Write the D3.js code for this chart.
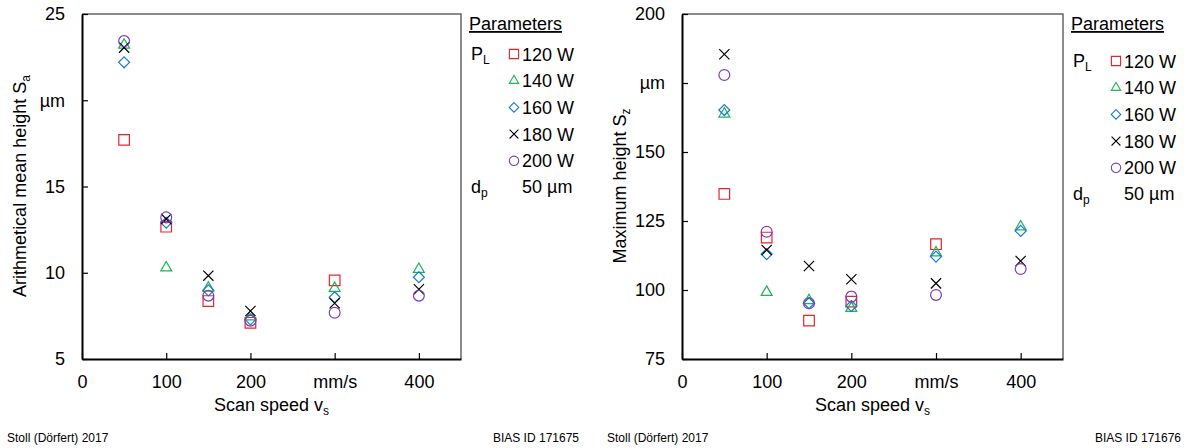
<!DOCTYPE html>
<html>
<head>
<meta charset="utf-8">
<script src="https://cdn.jsdelivr.net/npm/d3@7"></script>
<style>
  body { margin: 0; background: #fff; }
  svg { display: block; font-family: "Liberation Sans", Arial, sans-serif; }
</style>
</head>
<body>
<svg id="chart" width="1187" height="448"></svg>
<script>
// scan speeds (mm/s) and laser powers
const speeds = [50, 100, 150, 200, 300, 400]
const powers = ['120 W', '140 W', '160 W', '180 W', '200 W']

// arithmetical mean height Sa (µm), one array per power
const sa120 = [17.7, 12.67, 8.36, 7.1, 9.56, null]
const sa140 = [23.2, 10.29, 9.12, 7.45, 9.1, 10.2]
const sa160 = [22.2, 12.9, 8.98, 7.3, 8.58, 9.74]
const sa180 = [23.05, 13.12, 9.83, 7.78, 8.23, 9.04]
const sa200 = [23.43, 13.21, 8.67, 7.22, 7.68, 8.67]

// maximum height Sz (µm)
const sz120 = [134.8, 119.0, 88.9, 95.8, 116.6, null]
const sz140 = [163.8, 99.2, 96.2, 93.4, 113.5, 122.9]
const sz160 = [165.2, 113.0, 95.2, 94.2, 112.1, 121.4]
const sz180 = [185.4, 114.5, 108.7, 103.9, 102.4, 110.5]
const sz200 = [177.9, 121.1, 95.2, 97.6, 98.2, 107.6]

const xTicks = [0, 100, 200, 300, 400]
const saTicks = [5, 10, 15, 20, 25]
const szTicks = [75, 100, 125, 150, 175, 200]

const colors = ['#e8242b', '#1db356', '#1c78d3', '#000000', '#7a3db8']
const types = [d3.symbolSquare2, d3.symbolTriangle2, d3.symbolDiamond2, d3.symbolTimes, d3.symbolCircle]
const sizes = [143, 85, 77, 70, 92]
const symbols = types.map((t, i) => d3.symbol().type(t).size(sizes[i]))
const legSymbols = types.map((t, i) => d3.symbol().type(t).size(sizes[i] * 0.75))

const svg = d3.select('#chart')
const fs = 18

function drawChart(o) {
  const x = d3.scaleLinear().domain([0, 450]).range([o.left, o.right])
  const y = d3.scaleLinear().domain(o.yDomain).range([359, 14])
  const g = svg.append('g')

  // top and right frame
  g.append('path')
    .attr('d', `M${o.left},14H${o.right}V359`)
    .attr('fill', 'none')
    .attr('stroke', '#666')
    .attr('stroke-width', 1.5)

  const xAxis = g.append('g')
    .attr('transform', 'translate(0,359)')
    .call(d3.axisBottom(x).tickValues(xTicks).tickSize(-6).tickSizeOuter(0).tickPadding(16)
      .tickFormat(d => d === 300 ? 'mm/s' : d))
  const yAxis = g.append('g')
    .attr('transform', `translate(${o.left},0)`)
    .call(d3.axisLeft(y).tickValues(o.yTicks).tickSize(-6).tickSizeOuter(0).tickPadding(17)
      .tickFormat(d => d === o.unitTick ? 'µm' : d))
  for (const ax of [xAxis, yAxis]) {
    ax.select('.domain').attr('stroke', '#000').attr('stroke-width', 2)
    ax.selectAll('.tick line').attr('stroke', '#000').attr('stroke-width', 1.2)
    ax.selectAll('.tick text')
      .attr('font-family', '"Liberation Sans", Arial, sans-serif')
      .attr('font-size', fs).attr('fill', '#000')
  }

  // points
  o.series.forEach((vals, i) => {
    g.append('g').selectAll('path')
      .data(vals.map((v, j) => ({ s: speeds[j], v })).filter(d => d.v != null))
      .join('path')
      .attr('d', symbols[i])
      .attr('transform', d => `translate(${x(d.s)},${y(d.v)})`)
      .attr('fill', 'none')
      .attr('stroke', colors[i])
      .attr('stroke-width', 1.2)
  })

  // axis titles
  const xt = g.append('text')
    .attr('x', (o.left + o.right) / 2).attr('y', 411)
    .attr('text-anchor', 'middle').attr('font-size', fs)
    .text('Scan speed v')
  xt.append('tspan').attr('font-size', 12).attr('dy', 4).text('s')

  const yt = g.append('text')
    .attr('transform', `translate(${o.left - 56},186) rotate(-90)`)
    .attr('text-anchor', 'middle').attr('font-size', fs)
    .text(o.yTitle + ' S')
  yt.append('tspan').attr('font-size', 12).attr('dy', 4).text(o.ySub)

  // legend
  const lx = o.right + 8
  g.append('text')
    .attr('x', lx).attr('y', 30)
    .attr('font-size', fs)
    .style('text-decoration', 'underline')
    .text('Parameters')
  const pl = g.append('text')
    .attr('x', lx + 2).attr('y', o.legY + 6).attr('font-size', fs).text('P')
  pl.append('tspan').attr('font-size', 12).attr('dy', 4).text('L')
  powers.forEach((p, i) => {
    const ry = o.legY + i * 26.7
    g.append('path')
      .attr('d', legSymbols[i])
      .attr('transform', `translate(${lx + 45},${ry})`)
      .attr('fill', 'none')
      .attr('stroke', colors[i])
      .attr('stroke-width', 1.1)
    g.append('text')
      .attr('x', lx + 53).attr('y', ry + 6.5)
      .attr('font-size', fs).text(p)
  })
  const dy = o.legY + 5 * 26.7 - 1
  const dp = g.append('text')
    .attr('x', lx + 2).attr('y', dy + 6).attr('font-size', fs).text('d')
  dp.append('tspan').attr('font-size', 12).attr('dy', 4).text('p')
  g.append('text')
    .attr('x', lx + 53).attr('y', dy + 6.5)
    .attr('font-size', fs).text('50 µm')

  // footer
  g.append('text')
    .attr('x', o.left - 75).attr('y', 442)
    .attr('font-size', 12).text('Stoll (Dörfert) 2017')
  g.append('text')
    .attr('x', o.right + 118).attr('y', 442)
    .attr('text-anchor', 'end')
    .attr('font-size', 12).text(o.id)
}

drawChart({
  left: 82, right: 461,
  yDomain: [5, 25], yTicks: saTicks, unitTick: 20,
  yTitle: 'Arithmetical mean height', ySub: 'a',
  series: [sa120, sa140, sa160, sa180, sa200],
  legY: 54, id: 'BIAS ID 171675'
})

drawChart({
  left: 682, right: 1063,
  yDomain: [75, 200], yTicks: szTicks, unitTick: 175,
  yTitle: 'Maximum height', ySub: 'z',
  series: [sz120, sz140, sz160, sz180, sz200],
  legY: 61, id: 'BIAS ID 171676'
})
</script>
</body>
</html>
